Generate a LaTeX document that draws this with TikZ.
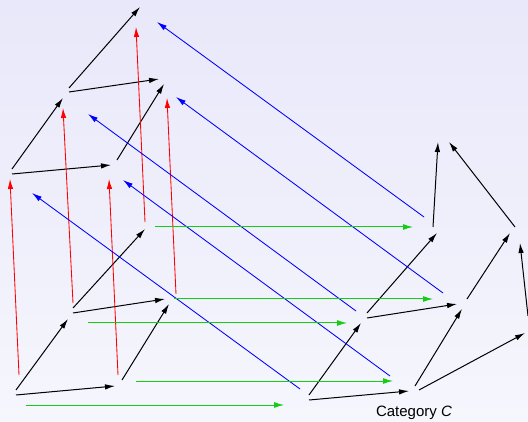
\documentclass[tikz,border=0pt]{standalone}
\usepackage{fontspec}
\setmainfont{Liberation Sans}
\usetikzlibrary{arrows.meta}
\definecolor{bgtop}{RGB}{232,232,250}
\definecolor{bgbot}{RGB}{246,246,253}
\definecolor{mapgreen}{RGB}{20,205,20}
\tikzset{
  ctline/.style={-{Latex[length=10pt,width=5.5pt]}, line width=1pt, black},
  ctred/.style={-{Latex[length=10pt,width=5.5pt]}, line width=0.85pt, red},
  ctblue/.style={-{Latex[length=10pt,width=5.5pt]}, line width=0.85pt, blue},
  ctgreen/.style={-{Latex[length=10pt,width=6pt]}, line width=1pt, mapgreen},
  ctlabel/.style={inner sep=0pt, font=\fontsize{15}{18}\selectfont}
}
\begin{document}
\begin{tikzpicture}[x=1pt,y=-1pt]
  \shade[top color=bgtop, bottom color=bgbot] (0,0) rectangle (528,422);
  \useasboundingbox (0,0) rectangle (528,422);

  % lower left copy
  \coordinate (p1) at (12,394);
  \coordinate (p2) at (119,384);
  \coordinate (p3) at (71,313);
  \coordinate (p4) at (169,300);
  \coordinate (p5) at (147,224);
  % upper copy
  \coordinate (q1) at (8,173);
  \coordinate (q2) at (115,163);
  \coordinate (q3) at (67,91);
  \coordinate (q4) at (164,79);
  \coordinate (q5) at (143,3);
  % category C
  \coordinate (r1) at (305,399);
  \coordinate (r2) at (414,388);
  \coordinate (r3) at (364,318);
  \coordinate (r4) at (463,304);
  \coordinate (r5) at (436,230);
  \coordinate (r6) at (529,326);
  \coordinate (r7) at (517,234);
  \coordinate (r8) at (443,136);

  \draw[ctline] ([shift={(4,1)}]p1) -- ([shift={(-4,2)}]p2);
  \draw[ctline] ([shift={(4,-4)}]p1) -- ([shift={(-3,6)}]p3);
  \draw[ctline] ([shift={(3,-4)}]p2) -- ([shift={(0,4)}]p4);
  \draw[ctline] ([shift={(2,0)}]p3) -- ([shift={(-4,-1)}]p4);
  \draw[ctline] ([shift={(2,-5)}]p3) -- ([shift={(-2,5)}]p5);

  \draw[ctline] ([shift={(4,1)}]q1) -- ([shift={(-4,2)}]q2);
  \draw[ctline] ([shift={(4,-4)}]q1) -- ([shift={(-4,7)}]q3);
  \draw[ctline] ([shift={(2,-3)}]q2) -- ([shift={(0,5)}]q4);
  \draw[ctline] ([shift={(2,1)}]q3) -- ([shift={(-5,0)}]q4);
  \draw[ctline] ([shift={(2,-3)}]q3) -- ([shift={(-3,4)}]q5);

  \draw[ctline] ([shift={(4,1)}]r1) -- ([shift={(-5,3)}]r2);
  \draw[ctline] ([shift={(4,-4)}]r1) -- ([shift={(-3,5)}]r3);
  \draw[ctline] ([shift={(1,-2)}]r2) -- ([shift={(-1,5)}]r4);
  \draw[ctline] ([shift={(3,0)}]r3) -- ([shift={(-6,0)}]r4);
  \draw[ctline] ([shift={(3,-5)}]r3) -- ([shift={(1,3)}]r5);
  \draw[ctline] ([shift={(5,2)}]r2) -- ([shift={(-4,7)}]r6);
  \draw[ctline] ([shift={(4,-5)}]r4) -- ([shift={(-7,-1)}]r7);
  \draw[ctline] ([shift={(-1,-10)}]r6) -- ([shift={(3,9)}]r7);
  \draw[ctline] ([shift={(-3,-3)}]r5) -- ([shift={(-5,6)}]r8);
  \draw[ctline] ([shift={(-2,-7)}]r7) -- ([shift={(6,6)}]r8);

  % lifting to the upper copy
  \draw[ctred] ([shift={(7,-19)}]p1) -- ([shift={(2,6)}]q1);
  \draw[ctred] ([shift={(-1,-9)}]p2) -- ([shift={(-6,16)}]q2);
  \draw[ctred] ([shift={(2,-10)}]p3) -- ([shift={(-4,17)}]q3);
  \draw[ctred] ([shift={(7,-6)}]p4) -- ([shift={(3,19)}]q4);
  \draw[ctred] ([shift={(-2,-2)}]p5) -- ([shift={(-7,24)}]q5);

  \draw[ctblue] ([shift={(-5,-10)}]r1) -- ([shift={(24,20)}]q1);
  \draw[ctblue] ([shift={(-24,-12)}]r2) -- ([shift={(8,17)}]q2);
  \draw[ctblue] ([shift={(-8,-7)}]r3) -- ([shift={(21,23)}]q3);
  \draw[ctblue] ([shift={(-20,-11)}]r4) -- ([shift={(12,18)}]q4);
  \draw[ctblue] ([shift={(-12,-13)}]r5) -- ([shift={(14,19)}]q5);

  \draw[ctgreen] ([shift={(14,11)}]p1) -- ([shift={(-21,6)}]r1);
  \draw[ctgreen] ([shift={(17,-3)}]p2) -- ([shift={(-21,-7)}]r2);
  \draw[ctgreen] ([shift={(17,10)}]p3) -- ([shift={(-17,5)}]r3);
  \draw[ctgreen] ([shift={(5,-1)}]p4) -- ([shift={(-30,-5)}]r4);
  \draw[ctgreen] ([shift={(8,3)}]p5) -- ([shift={(-23,-3)}]r5);

  \node[ctlabel] (catname) at (414,413) {Category \textit{C}};
\end{tikzpicture}
\end{document}
